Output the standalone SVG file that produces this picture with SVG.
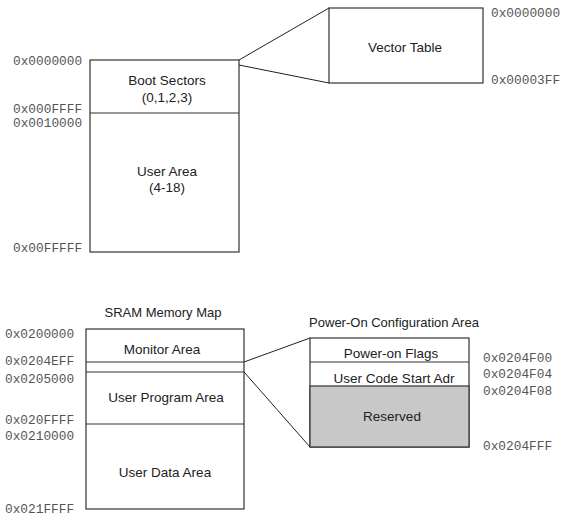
<svg xmlns="http://www.w3.org/2000/svg" width="561" height="522" viewBox="0 0 561 522">
<style>
.box{fill:#fff;stroke:#333;stroke-width:1.2}
.div{stroke:#333;stroke-width:1.2;fill:none}
.lbl{font-family:"Liberation Sans",Arial,sans-serif;font-size:13.5px;fill:#222;text-anchor:middle}
.ttl{font-family:"Liberation Sans",Arial,sans-serif;font-size:13px;fill:#222;text-anchor:middle}
.addr{font-family:"Liberation Mono","Courier New",monospace;font-size:12.8px;fill:#555}
.con{stroke:#222;stroke-width:1;fill:none}
</style>
<rect width="561" height="522" fill="#fff"/>
<g id="connectors">
<line class="con" x1="239" y1="60" x2="329" y2="8"/>
<line class="con" x1="239" y1="65" x2="329" y2="83"/>
<line class="con" x1="244" y1="362" x2="310" y2="338"/>
<line class="con" x1="244" y1="372" x2="310" y2="447"/>
</g>
<g id="flash-map">
<rect class="box" x="90" y="60" width="149" height="192"/>
<line class="div" x1="90" y1="113" x2="239" y2="113"/>
<text class="addr" x="13" y="65">0x0000000</text>
<text class="addr" x="13" y="113">0x000FFFF</text>
<text class="addr" x="13" y="127">0x0010000</text>
<text class="addr" x="13" y="252">0x00FFFFF</text>
</g>
<g id="boot-sectors">
<text class="lbl" x="167" y="85">Boot Sectors</text>
<text class="lbl" x="167" y="102">(0,1,2,3)</text>
</g>
<g id="user-area">
<text class="lbl" x="167" y="176">User Area</text>
<text class="lbl" x="167" y="192">(4-18)</text>
</g>
<g id="vector-table">
<rect class="box" x="329" y="8" width="154" height="75"/>
<text class="lbl" x="405" y="52">Vector Table</text>
<text class="addr" x="491" y="17">0x0000000</text>
<text class="addr" x="491" y="84">0x00003FF</text>
</g>
<g id="sram-map">
<text class="ttl" x="163" y="317">SRAM Memory Map</text>
<rect class="box" x="86" y="329" width="158" height="180"/>
<line class="div" x1="86" y1="362" x2="244" y2="362"/>
<line class="div" x1="86" y1="372" x2="244" y2="372"/>
<line class="div" x1="86" y1="424" x2="244" y2="424"/>
<text class="addr" x="5" y="338">0x0200000</text>
<text class="addr" x="5" y="365">0x0204EFF</text>
<text class="addr" x="5" y="383">0x0205000</text>
<text class="addr" x="5" y="424">0x020FFFF</text>
<text class="addr" x="5" y="440">0x0210000</text>
<text class="addr" x="5" y="513">0x021FFFF</text>
</g>
<g id="monitor-area"><text class="lbl" x="162" y="354">Monitor Area</text></g>
<g id="user-program-area"><text class="lbl" x="166" y="402">User Program Area</text></g>
<g id="user-data-area"><text class="lbl" x="165" y="477">User Data Area</text></g>
<g id="power-on-config">
<text class="ttl" x="394" y="327">Power-On Configuration Area</text>
<rect class="box" x="310" y="338" width="159" height="109"/>
<rect x="310" y="386" width="159" height="61" fill="#c8c8c8" stroke="#333" stroke-width="1.2"/>
<line class="div" x1="310" y1="362" x2="469" y2="362"/>
<text class="lbl" x="391" y="358">Power-on Flags</text>
<text class="lbl" x="394" y="383">User Code Start Adr</text>
<text class="lbl" x="392" y="421">Reserved</text>
<text class="addr" x="483" y="362">0x0204F00</text>
<text class="addr" x="483" y="378">0x0204F04</text>
<text class="addr" x="483" y="395">0x0204F08</text>
<text class="addr" x="483" y="450">0x0204FFF</text>
</g>
</svg>
